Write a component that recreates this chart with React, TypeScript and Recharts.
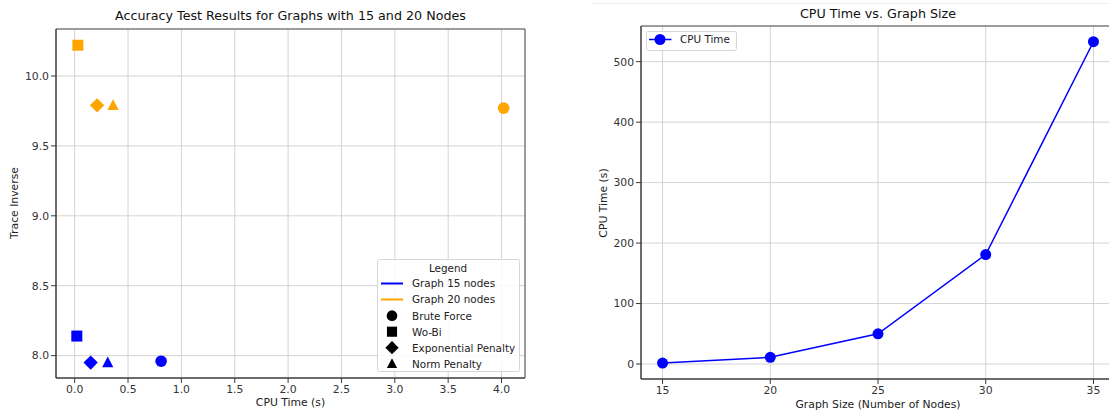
import React from 'react';
import {
  ScatterChart, Scatter, LineChart, Line, XAxis, YAxis, CartesianGrid, ReferenceArea,
} from 'recharts';

const methods = ['Brute Force', 'Wo-Bi', 'Exponential Penalty', 'Norm Penalty'];
const markers = ['circle', 'square', 'diamond', 'triangle'];
const cpu15 = [0.81, 0.02, 0.15, 0.31];
const trace15 = [7.96, 8.14, 7.95, 7.95];
const cpu20 = [4.02, 0.03, 0.21, 0.36];
const trace20 = [9.77, 10.22, 9.79, 9.79];
const graphLabels = ['Graph 15 nodes', 'Graph 20 nodes'];
const leftXTicks = [0, 0.5, 1, 1.5, 2, 2.5, 3, 3.5, 4];
const leftYTicks = [8, 8.5, 9, 9.5, 10];

const graphSizes = [15, 20, 25, 30, 35];
const cpuTimes = [1.5, 11, 50, 181, 533];
const rightXTicks = [15, 20, 25, 30, 35];
const rightYTicks = [0, 100, 200, 300, 400, 500];

const BLUE = '#0000ff';
const ORANGE = '#ffa500';
const FONT = '"DejaVu Sans", sans-serif';
const GRID = '#d3d3d3';
const FRAME = '#3a3a3a';
const FS = 10.8;
const LFS = 10.4;
const TICK = { fontSize: FS, fill: '#333', fontFamily: FONT };

const LX = [-0.175, 4.22];
const LY = [7.84, 10.336];
const RX = [14, 36];
const RY = [-24.8, 559];

const data15 = methods.map((m, i) => ({ x: cpu15[i], y: trace15[i], marker: markers[i] }));
const data20 = methods.map((m, i) => ({ x: cpu20[i], y: trace20[i], marker: markers[i] }));
const lineData = graphSizes.map((s, i) => ({ x: s, y: cpuTimes[i] }));

function Marker({ cx, cy, kind, color, scale = 1 }: any) {
  if (cx == null || cy == null) return null;
  const s = scale;
  if (kind === 'circle') return <circle cx={cx} cy={cy} r={5.8 * s} fill={color} />;
  if (kind === 'square') return <rect x={cx - 5.5 * s} y={cy - 5.5 * s} width={11 * s} height={11 * s} fill={color} />;
  if (kind === 'diamond') {
    const d = 7.2 * s;
    return <polygon points={`${cx},${cy - d} ${cx + d},${cy} ${cx},${cy + d} ${cx - d},${cy}`} fill={color} />;
  }
  return (
    <polygon
      points={`${cx},${cy - 6 * s} ${cx + 5.6 * s},${cy + 4.6 * s} ${cx - 5.6 * s},${cy + 4.6 * s}`}
      fill={color}
    />
  );
}

const fmt1 = (v: number) => v.toFixed(1);

function LeftChart() {
  return (
    <div style={{ position: 'absolute', left: 0, top: 0, width: 560, height: 411 }}>
      <ScatterChart
        width={560}
        height={411}
        margin={{ top: 29, right: 35, bottom: 8, left: 16 }}
      >
        <CartesianGrid stroke={GRID} strokeWidth={1} horizontalValues={leftYTicks} verticalValues={leftXTicks} />
        <XAxis
          type="number"
          dataKey="x"
          domain={LX}
          ticks={leftXTicks}
          tickFormatter={fmt1}
          allowDataOverflow
          height={25}
          tickSize={5}
          tickMargin={2}
          tick={TICK}
          stroke={FRAME}
          tickLine={{ stroke: FRAME }}
        />
        <YAxis
          type="number"
          dataKey="y"
          domain={LY}
          ticks={leftYTicks}
          tickFormatter={fmt1}
          allowDataOverflow
          width={40}
          tickSize={5}
          tickMargin={2}
          tick={TICK}
          stroke={FRAME}
          tickLine={{ stroke: FRAME }}
        />
        <ReferenceArea x1={LX[0]} x2={LX[1]} y1={LY[0]} y2={LY[1]} fill="none" stroke={FRAME} strokeWidth={1} />
        <Scatter
          data={data15}
          isAnimationActive={false}
          shape={(p: any) => <Marker cx={p.cx} cy={p.cy} kind={p.payload.marker} color={BLUE} />}
        />
        <Scatter
          data={data20}
          isAnimationActive={false}
          shape={(p: any) => <Marker cx={p.cx} cy={p.cy} kind={p.payload.marker} color={ORANGE} />}
        />
      </ScatterChart>
      {/* Legend */}
      <svg style={{ position: 'absolute', left: 0, top: 0, pointerEvents: 'none' }} width={560} height={411}>
        <rect x={377.5} y={259.5} width={142} height={112} rx={2} fill="rgba(255,255,255,0.85)" stroke="#d6d6d6" />
        <text x={448} y={271.8} textAnchor="middle" fontSize={LFS} fontFamily={FONT} fill="#222">Legend</text>
        {graphLabels.map((g, i) => (
          <g key={g}>
            <line x1={381} x2={403} y1={283.5 + i * 16} y2={283.5 + i * 16} stroke={i === 0 ? BLUE : ORANGE} strokeWidth={2} />
            <text x={412} y={287.3 + i * 16} fontSize={LFS} fontFamily={FONT} fill="#222">{g}</text>
          </g>
        ))}
        {methods.map((m, i) => (
          <g key={m}>
            <Marker cx={392} cy={315.7 + i * 16} kind={markers[i]} color="#000" scale={0.92} />
            <text x={412} y={319.5 + i * 16} fontSize={LFS} fontFamily={FONT} fill="#222">{m}</text>
          </g>
        ))}
      </svg>
      <div style={{ position: 'absolute', left: 0, width: 581, top: 8, textAlign: 'center', fontFamily: FONT, fontSize: 12.7, color: '#111', whiteSpace: 'nowrap' }}>
        Accuracy Test Results for Graphs with 15 and 20 Nodes
      </div>
      <div style={{ position: 'absolute', left: 0, width: 581, top: 396, textAlign: 'center', fontFamily: FONT, fontSize: FS, color: '#222' }}>
        CPU Time (s)
      </div>
      <div style={{ position: 'absolute', left: 14, top: 203, width: 0, height: 0 }}>
        <div style={{ position: 'absolute', transform: 'translate(-50%, -50%) rotate(-90deg)', fontFamily: FONT, fontSize: FS, color: '#222', whiteSpace: 'nowrap' }}>
          Trace Inverse
        </div>
      </div>
    </div>
  );
}

function RightChart() {
  return (
    <div style={{ position: 'absolute', left: 560, top: 0, width: 560, height: 411 }}>
      <div style={{ position: 'absolute', left: 32, right: 0, top: 3, height: 1, background: '#eeeeee' }} />
      <LineChart
        width={560}
        height={411}
        data={lineData}
        margin={{ top: 26, right: 5, bottom: 7, left: 41 }}
      >
        <CartesianGrid stroke={GRID} strokeWidth={1} horizontalValues={rightYTicks} verticalValues={rightXTicks} />
        <XAxis
          type="number"
          dataKey="x"
          domain={RX}
          ticks={rightXTicks}
          allowDataOverflow
          height={25}
          tickSize={5}
          tickMargin={2}
          tick={TICK}
          stroke={FRAME}
          tickLine={{ stroke: FRAME }}
        />
        <YAxis
          type="number"
          domain={RY}
          ticks={rightYTicks}
          allowDataOverflow
          width={40}
          tickSize={5}
          tickMargin={2}
          tick={TICK}
          stroke={FRAME}
          tickLine={{ stroke: FRAME }}
        />
        <ReferenceArea x1={RX[0]} x2={RX[1]} y1={RY[0]} y2={RY[1]} fill="none" stroke={FRAME} strokeWidth={1} />
        <Line
          dataKey="y"
          stroke={BLUE}
          strokeWidth={1.5}
          dot={{ r: 5.5, fill: BLUE, stroke: BLUE, strokeWidth: 0 }}
          isAnimationActive={false}
        />
      </LineChart>
      <svg style={{ position: 'absolute', left: 0, top: 0, pointerEvents: 'none' }} width={560} height={411}>
        <rect x={86.5} y={31.5} width={90} height={19} rx={2} fill="rgba(255,255,255,0.85)" stroke="#d6d6d6" />
        <line x1={89} x2={111.5} y1={39.5} y2={39.5} stroke={BLUE} strokeWidth={1.5} />
        <circle cx={100} cy={39.5} r={5.5} fill={BLUE} />
        <text x={120} y={43.3} fontSize={LFS} fontFamily={FONT} fill="#222">CPU Time</text>
      </svg>
      <div style={{ position: 'absolute', left: 81, width: 474, top: 6, textAlign: 'center', fontFamily: FONT, fontSize: 12.7, color: '#111', whiteSpace: 'nowrap' }}>
        CPU Time vs. Graph Size
      </div>
      <div style={{ position: 'absolute', left: 81, width: 474, top: 398, textAlign: 'center', fontFamily: FONT, fontSize: FS, color: '#222', whiteSpace: 'nowrap' }}>
        Graph Size (Number of Nodes)
      </div>
      <div style={{ position: 'absolute', left: 43, top: 203, width: 0, height: 0 }}>
        <div style={{ position: 'absolute', transform: 'translate(-50%, -50%) rotate(-90deg)', fontFamily: FONT, fontSize: FS, color: '#222', whiteSpace: 'nowrap' }}>
          CPU Time (s)
        </div>
      </div>
    </div>
  );
}

export default function App() {
  return (
    <div style={{ position: 'absolute', left: 0, top: 0, width: 1109, height: 411, overflow: 'hidden', background: '#fff' }}>
      <LeftChart />
      <RightChart />
    </div>
  );
}
